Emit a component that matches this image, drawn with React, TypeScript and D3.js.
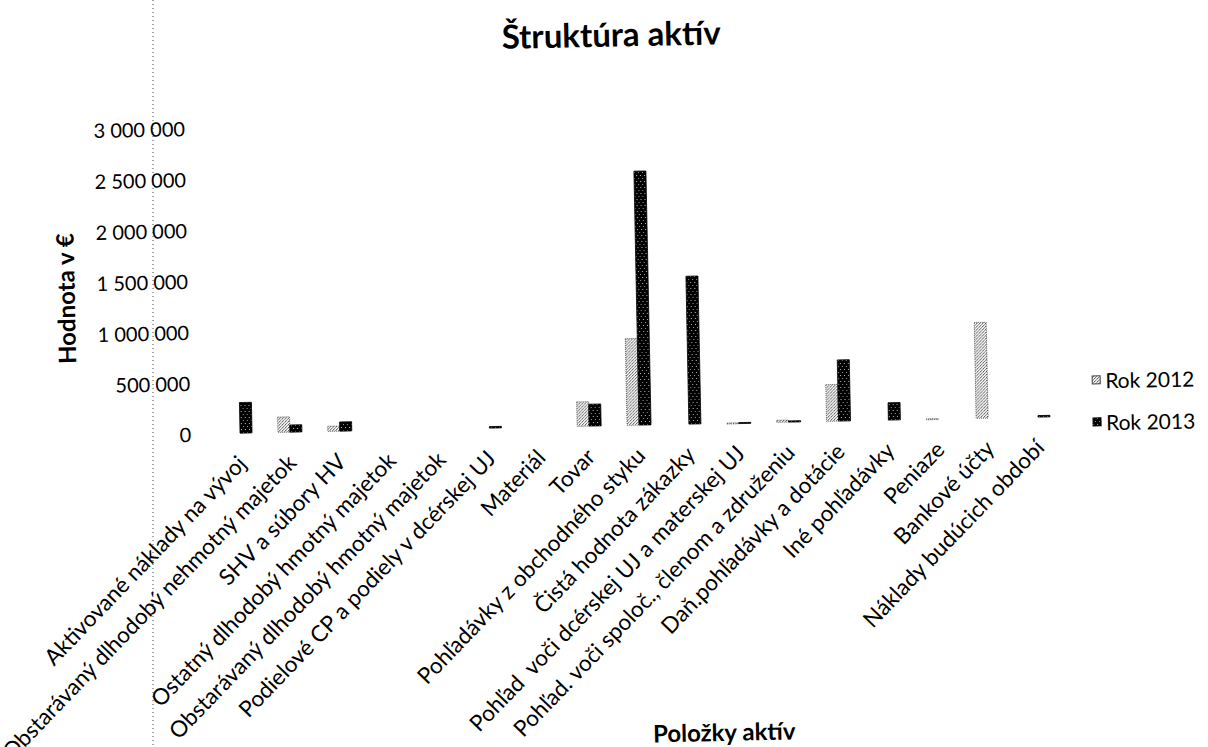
import React, { useRef, useEffect } from 'react';
import * as d3 from 'd3';

const categories = [
  "Aktivované náklady na vývoj",
  "Obstarávaný dlhodobý nehmotný majetok",
  "SHV a súbory HV",
  "Ostatný dlhodobý hmotný majetok",
  "Obstarávaný dlhodobý hmotný majetok",
  "Podielové CP a podiely v dcérskej UJ",
  "Materiál",
  "Tovar",
  "Pohľadávky z obchodného styku",
  "Čistá hodnota zákazky",
  "Pohľad  voči dcérskej UJ a materskej UJ",
  "Pohľad. voči spoloč., členom a združeniu",
  "Daň.pohľadávky a dotácie",
  "Iné pohľadávky",
  "Peniaze",
  "Bankové účty",
  "Náklady budúcich období",
];

const seriesNames = ["Rok 2012", "Rok 2013"];
const values2012 = [0, 150000, 50000, 0, 0, 0, 0, 240000, 850000, 0, 3000, 20000, 360000, 0, 5000, 940000, 0];
const values2013 = [300000, 70000, 90000, 0, 0, 15000, 0, 215000, 2490000, 1450000, 5000, 12000, 600000, 170000, 0, 0, 15000];
const yTicks = [0, 500000, 1000000, 1500000, 2000000, 2500000, 3000000];

const App = () => {
  const ref = useRef<SVGSVGElement>(null);

  useEffect(() => {
    const svg = d3.select(ref.current);
    svg.selectAll("*").remove();

    // fill patterns, like the scanned Excel hatching
    const defs = svg.append("defs");
    const p12 = defs.append("pattern").attr("id", "p2012").attr("patternUnits", "userSpaceOnUse")
      .attr("width", 3).attr("height", 3);
    p12.append("rect").attr("width", 3).attr("height", 3).attr("fill", "#fff");
    p12.append("rect").attr("x", 0).attr("y", 0).attr("width", 1).attr("height", 1).attr("fill", "#333");
    p12.append("rect").attr("x", 2).attr("y", 1).attr("width", 1).attr("height", 1).attr("fill", "#777");
    p12.append("rect").attr("x", 1).attr("y", 2).attr("width", 1).attr("height", 1).attr("fill", "#555");
    const p13 = defs.append("pattern").attr("id", "p2013").attr("patternUnits", "userSpaceOnUse")
      .attr("width", 4).attr("height", 6);
    p13.append("rect").attr("width", 4).attr("height", 6).attr("fill", "#000");
    p13.append("rect").attr("x", 1).attr("y", 1).attr("width", 1).attr("height", 1).attr("fill", "#bbb");
    p13.append("rect").attr("x", 3).attr("y", 4).attr("width", 1).attr("height", 1).attr("fill", "#999");
    const fills = ["url(#p2012)", "url(#p2013)"];
    const strokes = ["#444", "#000"];

    // dotted scan line
    svg.append("line").attr("x1", 153).attr("x2", 153).attr("y1", 0).attr("y2", 747)
      .attr("stroke", "#444").attr("stroke-dasharray", "1 3");

    // the scan is slightly tilted
    const g = svg.append("g")
      .attr("transform", "rotate(-1.15 645 424)")
      .style("font-family", "Lato, 'Open Sans', sans-serif")
      .attr("fill", "#000");

    const x0 = d3.scaleBand().domain(categories).range([215, 1063]);
    const barW = 12;
    const x1 = d3.scaleBand().domain(seriesNames).range([0, barW * 2]);
    const y = d3.scaleLinear().domain([0, 3000000]).range([425, 119]);
    const fmt = (v: number) => d3.format(",")(v).replace(/,/g, " ");

    g.append("text").attr("x", 619).attr("y", 33)
      .attr("text-anchor", "middle").attr("dominant-baseline", "central")
      .style("font-size", "33px").style("font-weight", "bold")
      .text("Štruktúra aktív");

    g.append("text").attr("transform", "translate(68,287) rotate(-90)")
      .attr("text-anchor", "middle").attr("dominant-baseline", "central")
      .style("font-size", "24px").style("font-weight", "bold")
      .text("Hodnota v €");

    g.append("text").attr("x", 718).attr("y", 733)
      .attr("text-anchor", "middle").attr("dominant-baseline", "central")
      .style("font-size", "24px").style("font-weight", "bold")
      .text("Položky aktív");

    g.selectAll(".ytick").data(yTicks).join("text")
      .attr("class", "ytick")
      .attr("x", 191).attr("y", d => y(d))
      .attr("text-anchor", "end").attr("dominant-baseline", "central")
      .style("font-size", "20px")
      .text(d => fmt(d));

    const series = [values2012, values2013];
    series.forEach((vals, si) => {
      g.append("g").selectAll("rect")
        .data(vals.map((v, i) => ({ v, c: categories[i] })).filter(d => d.v > 0))
        .join("rect")
        .attr("x", d => (x0(d.c) as number) + x0.bandwidth() / 2 - barW + (x1(seriesNames[si]) as number))
        .attr("y", d => y(d.v))
        .attr("width", barW)
        .attr("height", d => Math.max(1, y(0) - y(d.v)))
        .attr("fill", fills[si])
        .attr("stroke", strokes[si]).attr("stroke-width", 0.8)
        .attr("stroke-dasharray", si === 0 ? "1 1" : null);
    });

    g.selectAll(".xlab").data(categories).join("text")
      .attr("class", "xlab")
      .attr("transform", d => `translate(${(x0(d) as number) + x0.bandwidth() / 2 + 1},451) rotate(-45)`)
      .attr("text-anchor", "end").attr("dominant-baseline", "central")
      .style("font-size", "22.5px").style("white-space", "pre")
      .text(d => d);

    const leg = g.append("g");
    seriesNames.forEach((s, i) => {
      const ly = 389 + i * 42;
      leg.append("rect").attr("x", 1093).attr("y", ly - 4).attr("width", 8).attr("height", 8)
        .attr("fill", fills[i]).attr("stroke", strokes[i]);
      leg.append("text").attr("x", 1106).attr("y", ly)
        .attr("dominant-baseline", "central").style("font-size", "21px").text(s);
    });
  }, []);

  return (
    <svg ref={ref} width={1208} height={747}
      style={{ position: "absolute", left: 0, top: 0, background: "#fff" }} />
  );
};

export default App;
